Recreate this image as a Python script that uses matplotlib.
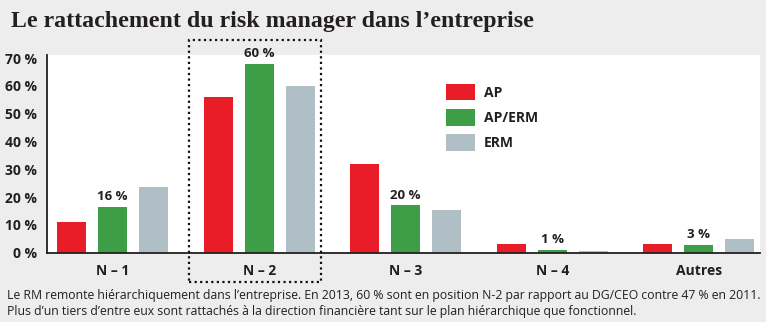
import matplotlib
matplotlib.use("Agg")
import matplotlib.pyplot as plt
from matplotlib.patches import Rectangle
import numpy as np

categories = ["N – 1", "N – 2", "N – 3", "N – 4", "Autres"]
series_names = ["AP", "AP/ERM", "ERM"]
ap = [11, 56, 32, 3, 3]
ap_erm = [16.5, 68, 17, 1, 2.8]
erm = [23.5, 60, 15.5, 0.6, 5]
ap_erm_labels = ["16 %", "60 %", "20 %", "1 %", "3 %"]
yticks = [0, 10, 20, 30, 40, 50, 60, 70]
ytick_labels = ["0 %", "10 %", "20 %", "30 %", "40 %", "50 %", "60 %", "70 %"]

title = "Le rattachement du risk manager dans l’entreprise"
caption1 = ("Le RM remonte hiérarchiquement dans l’entreprise. En 2013, 60 % sont en "
            "position N-2 par rapport au DG/CEO contre 47 % en 2011.")
caption2 = ("Plus d’un tiers d’entre eux sont rattachés à la direction financière "
            "tant sur le plan hiérarchique que fonctionnel.")

colors = ["#e81d27", "#3e9d47", "#b0bec6"]
bg = "#ededed"
txt = "#231f20"

W, H = 766, 334
fig = plt.figure(figsize=(W / 100, H / 100), dpi=100)
fig.patch.set_facecolor("white")
fig.add_artist(Rectangle((0, 1 - 322 / H), 1, 322 / H, transform=fig.transFigure,
                         facecolor=bg, edgecolor="none", zorder=0))

sans = ["Open Sans", "DejaVu Sans"]

ax = fig.add_axes([47 / W, 1 - 252.7 / H, (760 - 47) / W, (252.7 - 55) / H])
ax.set_facecolor("white")
x = np.arange(len(categories))
bw = 0.198
off = 0.28
for i, (vals, c) in enumerate(zip([ap, ap_erm, erm], colors)):
    ax.bar(x + (i - 1) * off, vals, width=bw, color=c, label=series_names[i], zorder=2)

for xi, v, lab in zip(x, ap_erm, ap_erm_labels):
    ax.annotate(lab, (xi, v), xytext=(0, 2.5), textcoords="offset points",
                ha="center", va="bottom", fontsize=9.5, fontweight="bold",
                color=txt, family=sans)

ax.set_xlim(-0.448, 4.418)
ax.set_ylim(0, 71.1)
ax.set_yticks(yticks)
ax.set_yticklabels(ytick_labels)
ax.set_xticks(x)
ax.set_xticklabels(categories)
for s in ["top", "right"]:
    ax.spines[s].set_visible(False)
for s in ["left", "bottom"]:
    ax.spines[s].set_color(txt)
    ax.spines[s].set_linewidth(1.3)
ax.tick_params(axis="both", length=0, colors=txt)
ax.tick_params(axis="y", pad=7)
ax.tick_params(axis="x", pad=8)
for lab in ax.get_yticklabels() + ax.get_xticklabels():
    lab.set_fontweight("bold")
    lab.set_fontsize(10)
    lab.set_family(sans)

leg = ax.legend(loc="upper left",
                bbox_to_anchor=((433 - 47) / (760 - 47), 1 - (71 - 55) / (252.7 - 55)),
                frameon=False, handlelength=2.09, handleheight=1.5, labelspacing=0.6,
                handletextpad=0.65, prop={"family": sans, "weight": "bold", "size": 10})
for t in leg.get_texts():
    t.set_color(txt)

# dotted highlight box around N-2
fig.add_artist(Rectangle((189 / W, 1 - 282 / H), (321 - 189) / W, (282 - 40) / H,
                         transform=fig.transFigure, fill=False, edgecolor="#111111",
                         linestyle=(0, (1, 1.5)), linewidth=1.6, zorder=5))

fig.text(11 / W, 1 - 22 / H, title, ha="left", va="center", fontsize=17.2,
         fontweight="bold", color=txt, family=["Liberation Serif", "DejaVu Serif"])
fig.text(7 / W, 1 - 296 / H, caption1, ha="left", va="center", fontsize=8.8,
         color=txt, family=sans)
fig.text(7 / W, 1 - 312 / H, caption2, ha="left", va="center", fontsize=8.8,
         color=txt, family=sans)

fig.savefig("out.png", dpi=100, facecolor=fig.get_facecolor())
